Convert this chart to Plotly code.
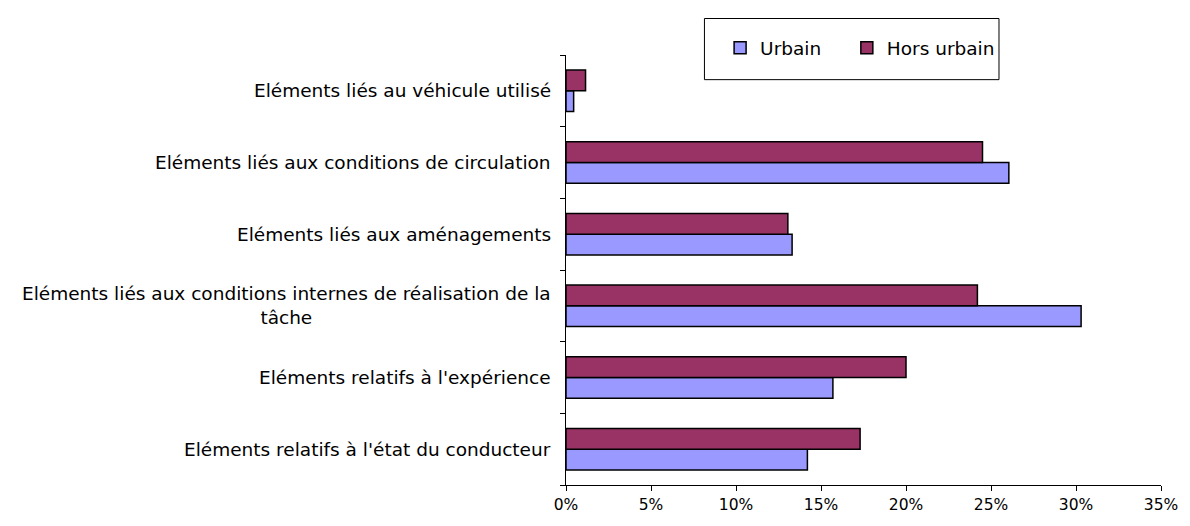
import plotly.graph_objects as go

# Categories listed bottom to top
categories = [
    "Eléments relatifs à l'état du conducteur",
    "Eléments relatifs à l'expérience",
    "Eléments liés aux conditions internes de réalisation de la<br>tâche",
    "Eléments liés aux aménagements",
    "Eléments liés aux conditions de circulation",
    "Eléments liés au véhicule utilisé",
]
urbain = [14.2, 15.7, 30.3, 13.3, 26.05, 0.45]
hors_urbain = [17.3, 20.0, 24.2, 13.05, 24.5, 1.15]

x_ticks = [0, 5, 10, 15, 20, 25, 30, 35]

FONT = "DejaVu Sans, Verdana, sans-serif"

fig = go.Figure()
fig.add_trace(go.Bar(
    y=categories, x=urbain, name="Urbain", orientation="h",
    marker=dict(color="#9999FF", line=dict(color="black", width=1.5)),
    legend="legend",
))
fig.add_trace(go.Bar(
    y=categories, x=hors_urbain, name="Hors urbain", orientation="h",
    marker=dict(color="#993366", line=dict(color="black", width=1.5)),
    legend="legend2",
))

# Category labels drawn as annotations so wrapped lines stay centred
annotations = []
for c in categories:
    annotations.append(dict(
        x=0, xref="paper", y=c, yref="y", text=c, showarrow=False,
        xanchor="right", yanchor="middle", xshift=-13, align="center",
        font=dict(family=FONT, size=18.5, color="black"),
    ))

legend_style = dict(
    orientation="h", xanchor="left", y=1.016, yanchor="middle",
    bgcolor="rgba(0,0,0,0)", borderwidth=0,
    font=dict(family=FONT, size=18.5, color="black"),
)

fig.update_layout(
    width=1190, height=526,
    margin=dict(l=566, r=18, t=55, b=35),
    paper_bgcolor="white", plot_bgcolor="white",
    barmode="group", bargap=0.42, bargroupgap=0,
    font=dict(family=FONT, size=15, color="black"),
    showlegend=True,
    legend=dict(x=0.259, **legend_style),
    legend2=dict(x=0.472, **legend_style),
    annotations=annotations,
    shapes=[dict(
        type="rect", xref="paper", yref="paper",
        x0=(707 - 566) / 606, x1=(1007 - 566) / 606,
        y0=(491 - 80) / 436, y1=(491 - 18) / 436,
        line=dict(color="black", width=1), fillcolor="white", layer="below",
    )],
    xaxis=dict(
        range=[0, 35], tickvals=x_ticks, ticktext=[f"{v}%" for v in x_ticks],
        showline=True, linecolor="black", linewidth=1,
        ticks="outside", ticklen=5, tickcolor="black",
        showgrid=False, zeroline=False,
        tickfont=dict(family=FONT, size=15.5, color="black"),
    ),
    yaxis=dict(
        categoryorder="array", categoryarray=categories,
        showticklabels=False, showline=True, linecolor="black", linewidth=1,
        ticks="outside", ticklen=5, tickcolor="black", tickson="boundaries",
        showgrid=False, zeroline=False,
    ),
)

fig.write_html("out.html")
